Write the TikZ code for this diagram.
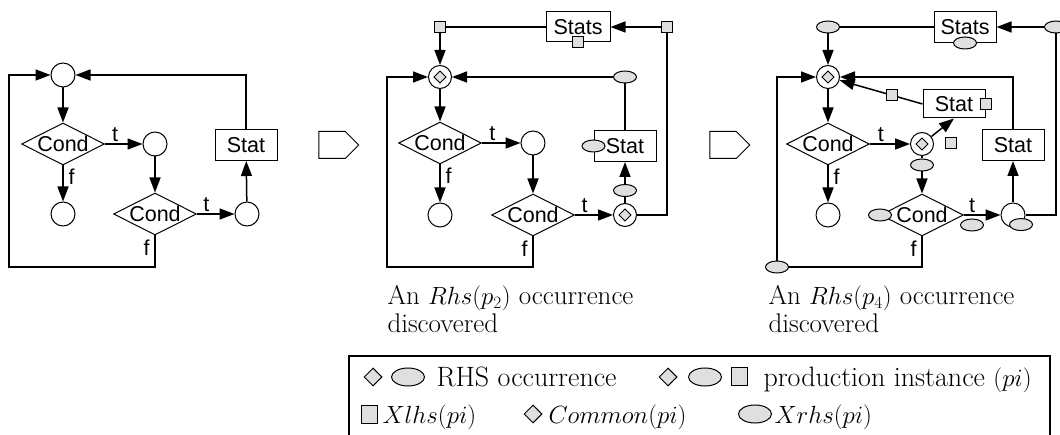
\documentclass[tikz,border=0pt]{standalone}
\usepackage{fontspec}
\newfontfamily\flowfont{Liberation Sans}
\usetikzlibrary{shapes.geometric, shapes.symbols, arrows.meta, positioning}

\tikzset{
  junc/.style={circle, draw, minimum size=24pt, inner sep=0pt},
  cjunc/.style={circle, draw, minimum size=23pt, inner sep=0pt,
    path picture={\draw[fill=gray!25, line width=0.8pt]
      ([yshift=6pt]path picture bounding box.center) -- ++(6pt,-6pt)
      -- ++(-6pt,-6pt) -- ++(-6pt,6pt) -- cycle;}},
  cond/.style={diamond, draw, aspect=2, inner sep=0pt, minimum width=82pt, minimum height=42pt},
  stat/.style={rectangle, draw, minimum width=62pt, minimum height=31pt, inner sep=1pt},
  xl/.style={rectangle, draw, fill=gray!25, minimum size=11pt, inner sep=0pt},
  xr/.style={ellipse, draw, fill=gray!25, minimum width=23pt, minimum height=12pt, inner sep=0pt},
  nextstep/.style={signal, signal to=east, draw, minimum width=40pt, minimum height=27pt, inner sep=0pt},
  lbl/.style={inner sep=2pt},
  captext/.style={font=\fontsize{27}{28}\selectfont, align=left, anchor=north west, inner sep=0pt},
  legtext/.style={font=\fontsize{28}{28}\selectfont, anchor=base west, inner sep=0pt},
  lgdia/.style={diamond, draw, fill=gray!25, minimum width=18pt, minimum height=18pt, inner sep=0pt},
  lgell/.style={xr, minimum width=33pt, minimum height=18pt},
  lgsq/.style={xl, minimum width=16pt, minimum height=18pt},
}

\begin{document}
\begin{tikzpicture}[x=1pt, y=-1pt, line width=1.5pt, >={Triangle[length=15pt,width=11pt]},
  every node/.style={font=\flowfont\fontsize{21.5}{23}\selectfont, line width=1pt}]

	\useasboundingbox (0,0) rectangle (1060,435);

	% first graph
	\node[junc] (j1) at (63,75) {};
	\node[cond] (c1) at (63,144) {Cond};
	\node[junc] (j2) at (155,144) {};
	\node[junc] (j3) at (63,214) {};
	\node[cond] (c2) at (155,214) {Cond};
	\node[junc] (j4) at (247,214) {};
	\node[stat] (s1) at (246,145) {Stat};
	\coordinate (l1) at (9,267);

	\draw[->] (j1) -- (c1);
	\draw[->] (c1) -- node[lbl, above, pos=.27] {t} (j2);
	\draw[->] (c1) -- node[lbl, right=3pt, pos=.3] {f} (j3);
	\draw[->] (j2) -- (c2);
	\draw[->] (c2) -- node[lbl, above, pos=.25] {t} (j4);
	\draw[->] (j4) -- (s1);
	\draw[->] (s1) |- (j1);
	\draw[->] (c2) |- node[lbl, left=3pt, pos=.2] {f} (l1) |- (j1);

	\node[nextstep] (n1) at (332,145) {};

	% second graph
	\node[xl] (xa) at (440,27) {};
	\node[stat, minimum width=64pt, minimum height=30pt] (st2) at (578,27) {Stats};
	\node[xl] (st2x) at (st2.south) {};
	\node[xl] (xb) at (667,27) {};
	\node[cjunc] (k1) at (440,77) {};
	\node[xr] (e2) at (625,77) {};
	\node[cond] (c3) at (440,143) {Cond};
	\node[junc] (j5) at (533,143) {};
	\node[junc] (j6) at (440,215) {};
	\node[cond] (c4) at (533,215) {Cond};
	\node[cjunc] (k2) at (625,215) {};
	\node[xr, above=6pt of k2] (e1) {};
	\node[stat] (s2) at (625,146) {Stat};
	\node[xr] (s2x) at (s2.west) {};
	\coordinate (l2) at (387,267);

	\draw (xa) -- (st2);
	\draw[->] (xb) -- (st2);
	\draw[->] (xa) -- (k1);
	\draw[->] (k1) -- (c3);
	\draw[->] (c3) -- node[lbl, above, pos=.27] {t} (j5);
	\draw[->] (c3) -- node[lbl, right=3pt, pos=.3] {f} (j6);
	\draw[->] (j5) -- (c4);
	\draw[->] (c4) -- node[lbl, above, pos=.25] {t} (k2);
	\draw (k2) -- (e1);
	\draw[->] (e1) -- (s2);
	\draw (s2) -- (e2);
	\draw[->] (e2) -- (k1);
	\draw (k2) -| (xb);
	\draw[->] (c4) |- node[lbl, left=3pt, pos=.2] {f} (l2) |- (k1);

	\node[nextstep] (n2) at (723,145) {};

	% third graph
	\node[xr] (ya) at (828,27) {};
	\node[stat] (st3) at (965,27) {Stats};
	\node[xr] (st3x) at (st3.south) {};
	\node[xr] (yb) at (1056,27) {};
	\node[cjunc] (k3) at (828,77) {};
	\node[stat, minimum height=28pt] (s3) at (954,104) {Stat};
	\node[xl] (s3x) at (s3.east) {};
	\node[cond] (c5) at (828,144) {Cond};
	\node[cjunc] (k4) at (922,144) {};
	\node[xr, below=2.5pt of k4] (k4x) {};
	\node[xl] (k4y) at (951,143) {};
	\node[junc] (j7) at (828,215) {};
	\node[cond] (c6) at (922,215) {Cond};
	\node[xr] (c6x) at (c6.west) {};
	\node[junc] (j8) at (1013,215) {};
	\node[xr] (j8x) at (j8.-50) {};
	\node[xr] (c6y) at (972,225) {};
	\node[stat] (s4) at (1013,145) {Stat};
	\coordinate (l3) at (777,267);

	\draw (ya) -- (st3);
	\draw[->] (yb) -- (st3);
	\draw[->] (ya) -- (k3);
	\draw[->] (k3) -- (c5);
	\draw[->] (c5) -- node[lbl, above, pos=.27] {t} (k4);
	\draw[->] (c5) -- node[lbl, right=3pt, pos=.3] {f} (j7);
	\draw (k4) -- (k4x);
	\draw[->] (k4x) -- (c6);
	\draw[->] (k4) -- (s3.south);
	\draw[->] (s3.west) -- node[xl, pos=.37] {} (k3);
	\draw[->] (c6) -- node[lbl, above, pos=.22] {t} (j8);
	\draw[->] (j8) -- (s4);
	\draw[->] (s4) |- (k3);
	\draw (j8) -| (yb);
	\draw[->] (c6) |- node[lbl, left=3pt, pos=.2] {f} (l3) |- (k3);
	\node[xr] (l3x) at (l3) {};

	% captions
	\node[captext] (cap2) at (387,285) {An $Rhs(p_2)$ occurrence\\discovered};
	\node[captext] (cap3) at (768,285) {An $Rhs(p_4)$ occurrence\\discovered};

	% legend
	\draw[line width=1.2pt] (349,435) |- (1050,356) -- (1050,435);
	\node[lgdia] (ld1) at (373,377) {};
	\node[lgell] (le1) at (408,377) {};
	\node[legtext] (lt1) at (436,386) {RHS occurrence};
	\node[lgdia] (ld2) at (668,377) {};
	\node[lgell] (le2) at (705,377) {};
	\node[lgsq] (lq2) at (739,377) {};
	\node[legtext] (lt2) at (763,386) {production instance $(pi)$};
	\node[lgsq] (lq3) at (369,414) {};
	\node[legtext] (lt3) at (382,423) {$Xlhs(pi)$};
	\node[lgdia] (ld4) at (533,414) {};
	\node[legtext] (lt4) at (548,423) {$Common(pi)$};
	\node[lgell] (le5) at (755,414) {};
	\node[legtext] (lt5) at (774,423) {$Xrhs(pi)$};
\end{tikzpicture}
\end{document}
